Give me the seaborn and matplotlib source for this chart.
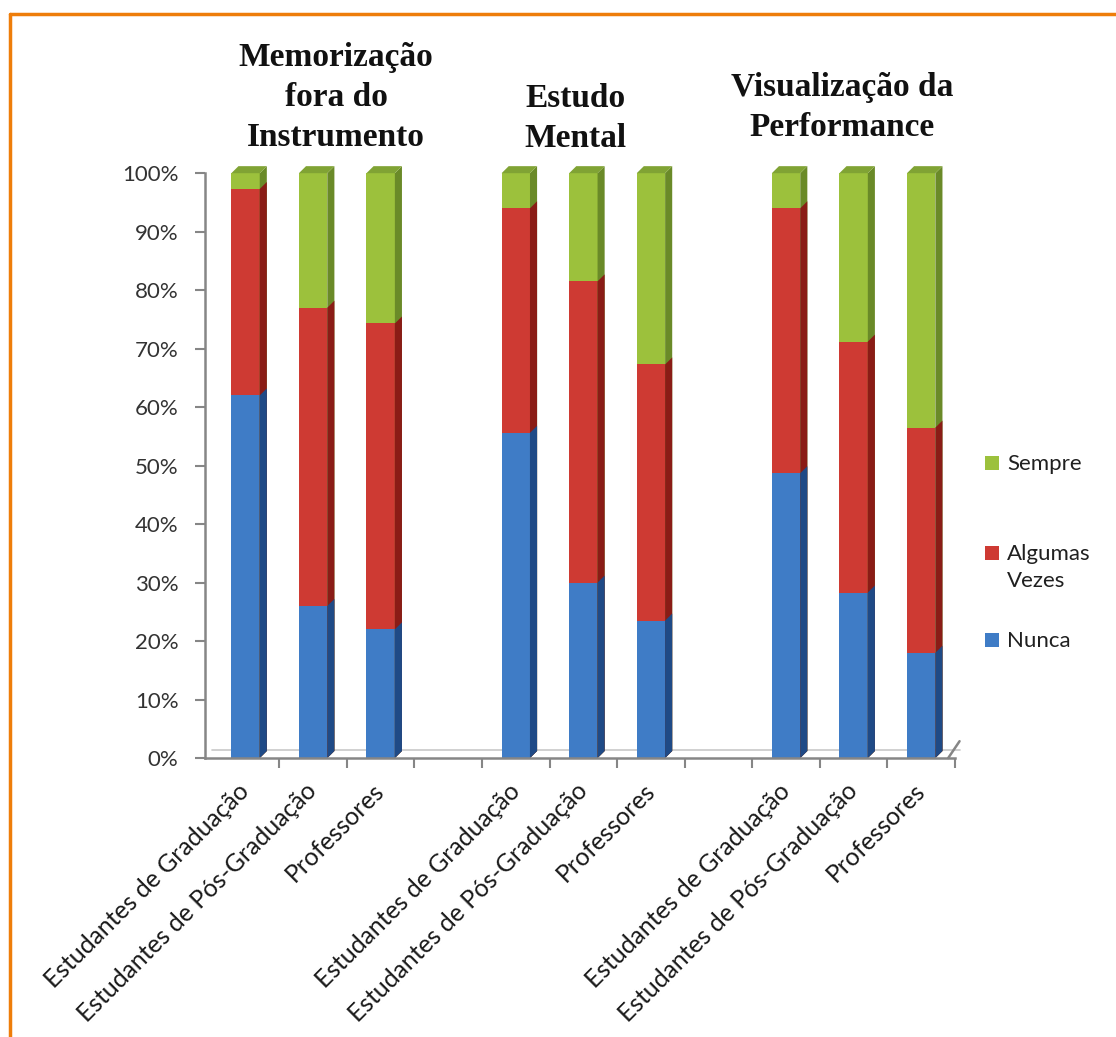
import numpy as np
import pandas as pd
import matplotlib
matplotlib.use("Agg")
import matplotlib.pyplot as plt
from matplotlib.patches import Polygon, Rectangle
from matplotlib.lines import Line2D
import seaborn as sns

# ---- data ----
groups = ["Memorização\nfora do\nInstrumento", "Estudo\nMental", "Visualização da\nPerformance"]
categories = ["Estudantes de Graduação", "Estudantes de Pós-Graduação", "Professores"]
nunca = [62.0, 26.0, 22.0, 55.6, 30.0, 23.5, 48.7, 28.3, 18.0]
algumas = [35.3, 51.0, 52.3, 38.4, 51.5, 43.8, 45.3, 42.9, 38.5]
sempre = [2.7, 23.0, 25.7, 6.0, 18.5, 32.7, 6.0, 28.8, 43.5]
positions = [0, 1, 2, 4, 5, 6, 8, 9, 10]
legend_labels = ["Sempre", "Algumas\nVezes", "Nunca"]

front = {"Nunca": "#3F7CC6", "Algumas Vezes": "#CE3A33", "Sempre": "#9CC13C"}
side = {"Nunca": "#1F4A86", "Algumas Vezes": "#8A1C16", "Sempre": "#6A8A28"}
topc = {"Nunca": "#5B8FD0", "Algumas Vezes": "#B33A30", "Sempre": "#80A334"}

df = pd.DataFrame({"pos": positions, "Nunca": nunca, "Algumas Vezes": algumas, "Sempre": sempre})
df["c1"] = df["Nunca"] / 100
df["c2"] = (df["Nunca"] + df["Algumas Vezes"]) / 100
df["c3"] = (df["Nunca"] + df["Algumas Vezes"] + df["Sempre"]) / 100

sns.set_style("white")
plt.rcParams["font.family"] = ["Lato", "DejaVu Sans"]

fig = plt.figure(figsize=(11.16, 10.37), dpi=100)
ax = fig.add_axes([0.1837, 0.269, 0.672, 0.564])

W = 0.42
order = [("c3", "Sempre"), ("c2", "Algumas Vezes"), ("c1", "Nunca")]
bar_series = []
for col, name in order:
    n_before = len(ax.patches)
    sns.barplot(data=df, x="pos", y=col, native_scale=True, color=front[name],
                width=W, saturation=1, ax=ax, linewidth=0, errorbar=None)
    for p in ax.patches[n_before:]:
        p.set_clip_on(False)
        bar_series.append((p, name))
if ax.get_legend() is not None:
    ax.get_legend().remove()

# 3D side/top faces built from the library's bar patches
dx, dy = 0.105, 0.012
for p, name in bar_series:
    x0, y0 = p.get_x(), p.get_y()
    w, h = p.get_width(), p.get_height()
    top = y0 + h
    ax.add_patch(Polygon([(x0 + w, y0), (x0 + w + dx, y0 + dy), (x0 + w + dx, top + dy), (x0 + w, top)],
                         closed=True, facecolor=side[name], edgecolor="none", clip_on=False,
                         zorder=p.get_zorder()))
    if name == "Sempre":
        ax.add_patch(Polygon([(x0, top), (x0 + dx, top + dy), (x0 + w + dx, top + dy), (x0 + w, top)],
                             closed=True, facecolor=topc[name], edgecolor="none", clip_on=False,
                             zorder=p.get_zorder()))

ax.set_xlim(-0.6, 10.4)
ax.set_ylim(0, 1.0)
ax.set_yticks(np.arange(0, 1.01, 0.1))
ax.set_yticklabels([f"{int(v)}%" for v in np.arange(0, 101, 10)], fontsize=16, color="#333333")
ax.set_xticks(positions)
ax.set_xticklabels(categories * 3, rotation=45, ha="right", va="center", rotation_mode="anchor",
                   fontsize=17.8, color="#1a1a1a")
ax.set_xticks([k + 0.5 for k in range(0, 11)], minor=True)
ax.tick_params(axis="x", which="major", length=0, pad=21, bottom=True)
ax.tick_params(axis="x", which="minor", length=7, width=1.5, color="#868686", direction="out", bottom=True)
ax.tick_params(axis="y", length=7, width=1.5, color="#868686", direction="out", left=True, pad=12)
ax.set_xlabel("")
ax.set_ylabel("")
for s in ["top", "right"]:
    ax.spines[s].set_visible(False)
for s in ["left", "bottom"]:
    ax.spines[s].set_color("#868686")
    ax.spines[s].set_linewidth(1.8)
ax.grid(False)
ax.set_facecolor("none")

# floor back edge line with diagonal end
ax.plot([-0.6 + dx, 10.4 + dx * 1.6], [dy * 1.2, dy * 1.2], color="#C8C8C8", lw=1.2, clip_on=False, zorder=0)
ax.plot([10.4, 10.4 + dx * 1.6], [0, dy * 2.4], color="#868686", lw=1.8, clip_on=False, zorder=0)

# group titles
title_x = [1.34, 4.89, 8.83]
title_y = [0.906, 0.886, 0.896]
for g, xx, yy in zip(groups, title_x, title_y):
    xf = ax.transData.transform((xx, 0))[0] / fig.bbox.width
    fig.text(xf, yy, g, ha="center", va="center", fontsize=24, fontweight="bold",
             family=["Liberation Serif", "DejaVu Serif"], linespacing=1.38, color="#111111")

# legend (series keys)
leg_colors = [front["Sempre"], front["Algumas Vezes"], front["Nunca"]]
leg_y = [463, 553, 640]
for lab, c, yp in zip(legend_labels, leg_colors, leg_y):
    fig.add_artist(Rectangle((985 / 1116, 1 - (yp + 7) / 1037), 14 / 1116, 14 / 1037,
                             transform=fig.transFigure, facecolor=c, edgecolor="none"))
    nlines = lab.count("\n")
    fig.text(1007 / 1116, 1 - (yp + 1 + nlines * 13.5) / 1037, lab, ha="left", va="center",
             fontsize=16, color="#202020", linespacing=1.45)

# orange frame (top and left)
fig.add_artist(Line2D([10 / 1116, 1.0], [1 - 14 / 1037] * 2, transform=fig.transFigure,
                      color="#EE7D0A", lw=2.5))
fig.add_artist(Line2D([10 / 1116] * 2, [0, 1 - 14 / 1037], transform=fig.transFigure,
                      color="#EE7D0A", lw=2.5))

fig.savefig("out.png", dpi=100, facecolor="white")
